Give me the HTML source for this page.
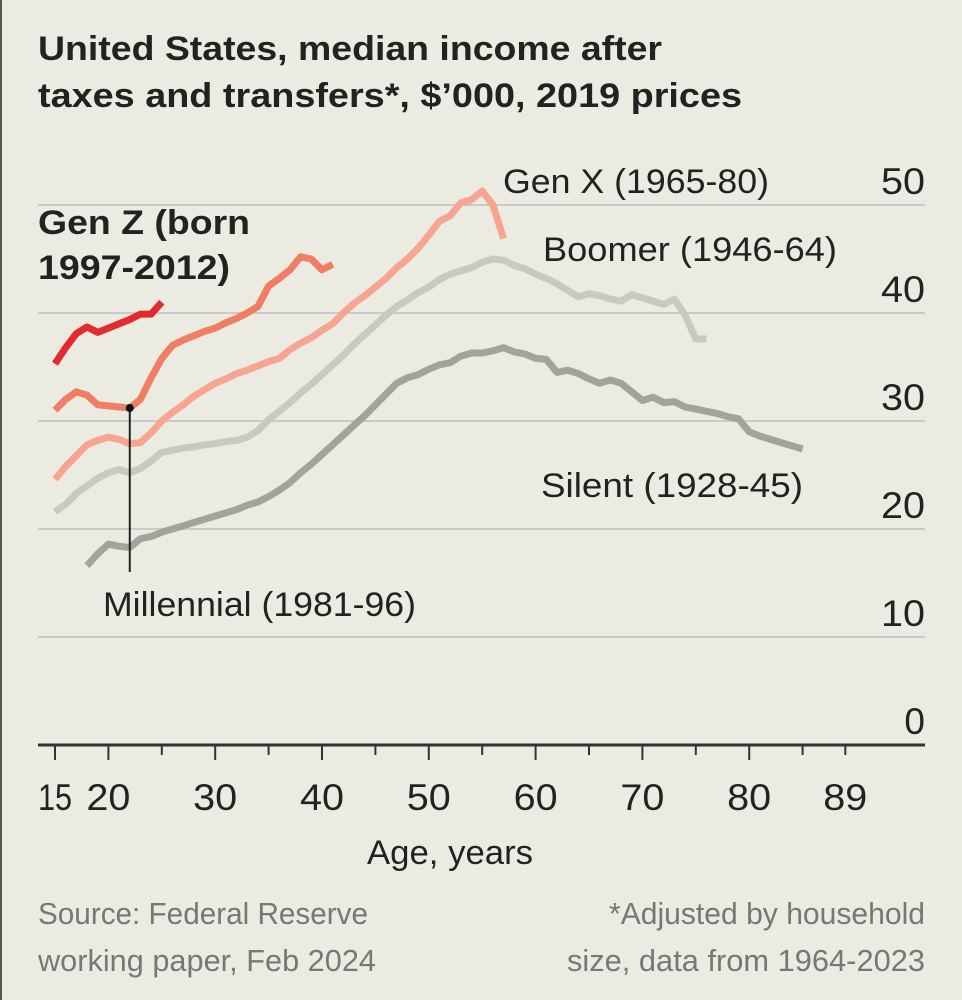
<!DOCTYPE html>
<html><head><meta charset="utf-8"><style>
html,body{margin:0;padding:0;background:#ecebe2;}
svg{display:block;font-family:"Liberation Sans",sans-serif;}
</style></head><body>
<svg id="chart" width="962" height="1000" viewBox="0 0 962 1000">
<rect x="0" y="0" width="962" height="1000" fill="#ecebe2"/>
<rect x="0" y="0" width="2" height="1000" fill="#555"/>
<text x="38" y="60" font-size="34" font-weight="bold" fill="#222" textLength="624" lengthAdjust="spacingAndGlyphs">United States, median income after</text>
<text x="38" y="107" font-size="34" font-weight="bold" fill="#222" textLength="704" lengthAdjust="spacingAndGlyphs">taxes and transfers*, $’000, 2019 prices</text>
<g id="grid"></g>
<g id="series"></g>
<g id="labels">
<text x="38" y="234" font-size="34" font-weight="bold" fill="#222" textLength="212" lengthAdjust="spacingAndGlyphs">Gen Z (born</text>
<text x="38" y="279" font-size="34" font-weight="bold" fill="#222" textLength="192" lengthAdjust="spacingAndGlyphs">1997-2012)</text>
<text x="503" y="193" font-size="34" fill="#222" textLength="266" lengthAdjust="spacingAndGlyphs">Gen X (1965-80)</text>
<text x="543" y="261" font-size="34" fill="#222" textLength="294" lengthAdjust="spacingAndGlyphs">Boomer (1946-64)</text>
<text x="541" y="497" font-size="34" fill="#222" textLength="262" lengthAdjust="spacingAndGlyphs">Silent (1928-45)</text>
<text x="103" y="616" font-size="34" fill="#222" textLength="313" lengthAdjust="spacingAndGlyphs">Millennial (1981-96)</text>
<text x="450" y="864" font-size="34" fill="#222" text-anchor="middle" textLength="166" lengthAdjust="spacingAndGlyphs">Age, years</text>
<text x="38" y="924" font-size="31" fill="#777" textLength="330" lengthAdjust="spacingAndGlyphs">Source: Federal Reserve</text>
<text x="38" y="971" font-size="31" fill="#777" textLength="338" lengthAdjust="spacingAndGlyphs">working paper, Feb 2024</text>
<text x="925" y="924" font-size="31" fill="#777" text-anchor="end" textLength="316" lengthAdjust="spacingAndGlyphs">*Adjusted by household</text>
<text x="925" y="971" font-size="31" fill="#777" text-anchor="end" textLength="358" lengthAdjust="spacingAndGlyphs">size, data from 1964-2023</text>
</g>
</svg>
<script>
const yTicks = [0, 10, 20, 30, 40, 50];
const xTicks = [15, 20, 30, 40, 50, 60, 70, 80, 89];
const silentStart = 18;
const silentValues = [16.6,17.7,18.6,18.4,18.3,19.1,19.3,19.7,20,20.3,20.6,20.9,21.2,21.5,21.8,22.2,22.5,23,23.6,24.3,25.2,26,26.9,27.8,28.7,29.6,30.5,31.5,32.5,33.5,34,34.3,34.8,35.2,35.4,36,36.3,36.3,36.5,36.8,36.4,36.2,35.8,35.7,34.5,34.7,34.4,33.9,33.5,33.8,33.5,32.7,31.9,32.2,31.7,31.8,31.3,31.1,30.9,30.7,30.4,30.2,29,28.6,28.3,28,27.7,27.4];
const boomerStart = 15;
const boomerValues = [21.6,22.3,23.3,24,24.7,25.2,25.5,25.2,25.6,26.3,27.1,27.3,27.5,27.6,27.8,27.9,28.1,28.2,28.5,29.1,30.1,30.9,31.7,32.6,33.4,34.3,35.2,36.1,37.1,38,38.9,39.8,40.6,41.2,41.9,42.4,43.1,43.6,43.9,44.2,44.7,45,44.9,44.4,44.1,43.6,43.2,42.7,42.1,41.5,41.8,41.6,41.3,41.1,41.7,41.4,41.1,40.8,41.3,39.8,37.6,37.6];
const genxStart = 15;
const genxValues = [24.6,25.8,26.8,27.8,28.2,28.5,28.3,27.9,28,28.9,30,30.8,31.5,32.3,32.9,33.5,33.9,34.4,34.7,35.1,35.5,35.8,36.6,37.2,37.7,38.4,39,40,40.9,41.6,42.4,43.2,44.2,45,46,47.2,48.5,49,50.2,50.5,51.3,50,46.9];
const millStart = 15;
const millValues = [31,32,32.7,32.4,31.5,31.4,31.3,31.2,32,34,35.8,37,37.5,37.9,38.3,38.6,39.1,39.5,40,40.6,42.5,43.2,44,45.2,45,44,44.5];
const genzStart = 15;
const genzValues = [35.3,36.8,38.1,38.7,38.2,38.6,39,39.4,39.9,39.9,41];
const millMarkerAge = 22;

const NS = "http://www.w3.org/2000/svg";
const xS = a => 55 + (a - 15) * 10.68;
const yS = v => 745 - v * 10.8;
function mk(tag, attrs, parent) {
  const e = document.createElementNS(NS, tag);
  for (const k in attrs) e.setAttribute(k, attrs[k]);
  parent.appendChild(e);
  return e;
}
const grid = document.getElementById('grid');
yTicks.forEach(v => {
  if (v > 0) {
    const l = mk('line', {x1: 38, x2: 925, y1: yS(v), y2: yS(v), stroke: '#c9c9cf', 'stroke-width': 2}, grid);
    
    
  }
  const attrs = {x: 925, y: yS(v) - 11, 'font-size': 37, fill: '#222', 'text-anchor': 'end'};
  if (v > 0) { attrs.textLength = 44; attrs.lengthAdjust = 'spacingAndGlyphs'; }
  const t = mk('text', attrs, grid);
  t.textContent = v;
  
  
});
const ax = mk('line', {x1: 38, x2: 925, y1: 745, y2: 745, stroke: '#333', 'stroke-width': 3}, grid);


for (let a = 15; a <= 85; a += 5) {
  const major = a % 10 === 0 || a === 15;
  const tk = mk('line', {x1: xS(a), x2: xS(a), y1: 745, y2: major ? 760 : 755, stroke: '#333', 'stroke-width': 2}, grid);
  
  
}
const tk89 = mk('line', {x1: xS(89), x2: xS(89), y1: 745, y2: 755, stroke: '#333', 'stroke-width': 2}, grid);


xTicks.forEach(a => {
  const t = mk('text', {x: xS(a), y: 810, 'font-size': 37, fill: '#222', 'text-anchor': 'middle', textLength: a === 15 ? 34 : 44, lengthAdjust: 'spacingAndGlyphs'}, grid);
  t.textContent = a;
  
  
});
const series = document.getElementById('series');
function line(start, vals, color, name) {
  const pts = vals.map((v, i) => xS(start + i).toFixed(1) + ',' + yS(v).toFixed(1)).join(' ');
  const p = mk('polyline', {points: pts, fill: 'none', stroke: color, 'stroke-width': 7, 'stroke-linejoin': 'round'}, series);
  
  
}
line(silentStart, silentValues, '#a3a39a', 'silent-line');
line(boomerStart, boomerValues, '#c9c9be', 'boomer-line');
line(genxStart, genxValues, '#f6a690', 'genx-line');
line(millStart, millValues, '#ef7e62', 'millennial-line');
line(genzStart, genzValues, '#e42a2c', 'genz-line');
const mv = millValues[millMarkerAge - millStart];
const ld = mk('line', {x1: xS(millMarkerAge), x2: xS(millMarkerAge), y1: yS(mv), y2: 572, stroke: '#222', 'stroke-width': 2}, series);


const dot = mk('circle', {cx: xS(millMarkerAge), cy: yS(mv), r: 4, fill: '#111'}, series);


</script>
</body></html>
